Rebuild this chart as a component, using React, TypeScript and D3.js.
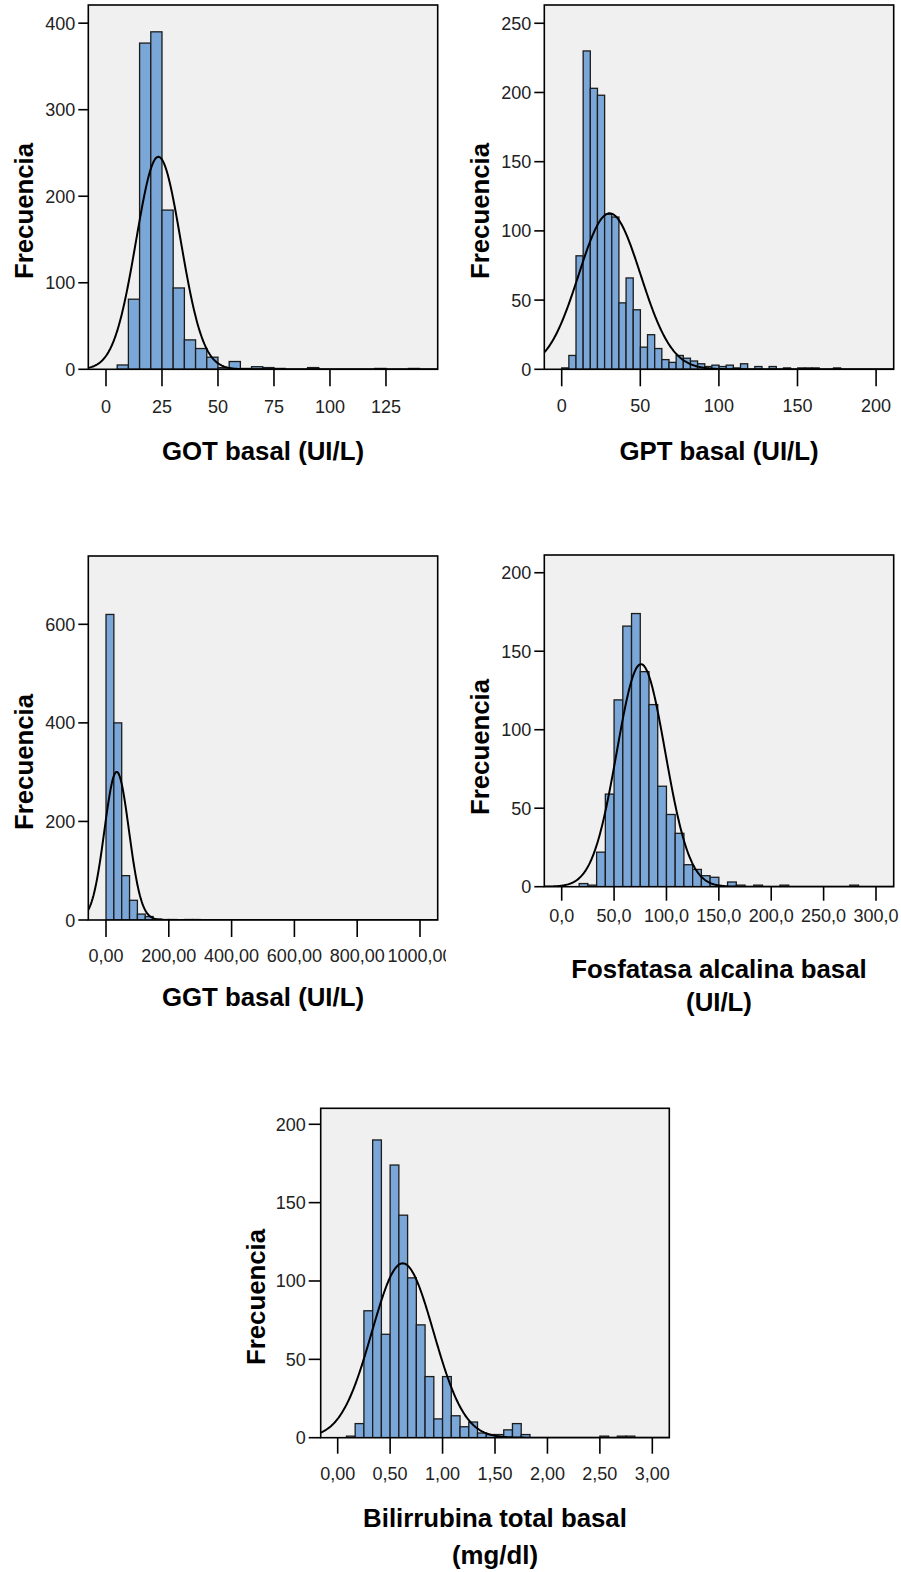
import React from "react";
import * as d3 from "d3";

// ---- Histogram data (frequency per bin) ----
const gotCounts = [0, 5, 81, 377, 390, 184, 94, 34, 24, 14, 2, 9, 1, 3, 2, 1, 0, 0, 2, 0, 0, 0, 0, 0, 1, 0, 0, 1];
const gotBinStart = 0;
const gotBinWidth = 5;
const gotMean = 23.4;
const gotSd = 9.95;
const gotXTicks = [0, 25, 50, 75, 100, 125];
const gotYTicks = [0, 100, 200, 300, 400];

const gptCounts = [1, 10, 82, 230, 203, 198, 112, 110, 48, 66, 43, 16, 25, 15, 7, 5, 10, 8, 6, 4, 2, 3, 2, 3, 1, 4, 0, 2, 0, 2, 0, 1, 0, 1, 1, 1, 0, 0, 1];
const gptBinStart = 0;
const gptBinWidth = 4.55;
const gptMean = 30.5;
const gptSd = 19.7;
const gptXTicks = [0, 50, 100, 150, 200];
const gptYTicks = [0, 50, 100, 150, 200, 250];

const ggtCounts = [620, 400, 90, 40, 12, 7, 2, 1, 1, 0, 1, 1];
const ggtBinStart = 0;
const ggtBinWidth = 25;
const ggtMean = 34;
const ggtSd = 39;
const ggtXTicks = [0, 200, 400, 600, 800, 1000];
const ggtYTicks = [0, 200, 400, 600];

const alpCounts = [0, 0, 2, 1, 22, 59, 119, 166, 174, 137, 116, 64, 46, 34, 14, 11, 7, 6, 0, 3, 1, 0, 1, 0, 0, 1, 0, 0, 0, 0, 0, 0, 0, 1];
const alpBinStart = 0;
const alpBinWidth = 25 / 3;
const alpMean = 75.7;
const alpSd = 23.1;
const alpXTicks = [0, 50, 100, 150, 200, 250, 300];
const alpYTicks = [0, 50, 100, 150, 200];

const bilCounts = [0, 1, 9, 81, 190, 66, 174, 142, 102, 72, 39, 12, 39, 14, 7, 10, 3, 2, 2, 5, 9, 2, 0, 0, 0, 0, 0, 0, 0, 0, 1, 0, 1, 1];
const bilBinStart = 0;
const bilBinWidth = 1 / 12;
const bilMean = 0.62;
const bilSd = 0.294;
const bilXTicks = [0, 0.5, 1, 1.5, 2, 2.5, 3];
const bilYTicks = [0, 50, 100, 150, 200];

const yAxisTitle = "Frecuencia";

const comma = (digits: number) => (v: number) => v.toFixed(digits).replace(".", ",");

type PanelSpec = {
  id: string;
  counts: number[];
  binStart: number;
  binWidth: number;
  mean: number;
  sd: number;
  xTicks: number[];
  yTicks: number[];
  fmt: (v: number) => string;
  box: { l: number; r: number; t: number; b: number };
  xDomain: [number, number];
  yMax: number;
  xTickLen: number;
  yTickLen: number;
  xLabelOffset: number;
  titleLines: string[];
  titleBaselines: number[];
  yTitlePos: [number, number];
  labelClipRight?: number;
};

const panels: PanelSpec[] = [
  {
    id: "got",
    counts: gotCounts, binStart: gotBinStart, binWidth: gotBinWidth, mean: gotMean, sd: gotSd,
    xTicks: gotXTicks, yTicks: gotYTicks, fmt: comma(0),
    box: { l: 88.3, r: 437.7, t: 5, b: 369.3 },
    xDomain: [-7.9, 148.1], yMax: 421,
    xTickLen: 17, yTickLen: 10, xLabelOffset: 43.4,
    titleLines: ["GOT basal (UI/L)"], titleBaselines: [460],
    yTitlePos: [24, 211],
  },
  {
    id: "gpt",
    counts: gptCounts, binStart: gptBinStart, binWidth: gptBinWidth, mean: gptMean, sd: gptSd,
    xTicks: gptXTicks, yTicks: gptYTicks, fmt: comma(0),
    box: { l: 544.3, r: 893.7, t: 5, b: 369.3 },
    xDomain: [-11.07, 211.2], yMax: 263.2,
    xTickLen: 17, yTickLen: 10, xLabelOffset: 43,
    titleLines: ["GPT basal (UI/L)"], titleBaselines: [460],
    yTitlePos: [480, 211],
  },
  {
    id: "ggt",
    counts: ggtCounts, binStart: ggtBinStart, binWidth: ggtBinWidth, mean: ggtMean, sd: ggtSd,
    xTicks: ggtXTicks, yTicks: ggtYTicks, fmt: comma(2),
    box: { l: 88.3, r: 437.7, t: 556, b: 920 },
    xDomain: [-56.4, 1056.4], yMax: 738.6,
    xTickLen: 17, yTickLen: 10, xLabelOffset: 42,
    titleLines: ["GGT basal (UI/L)"], titleBaselines: [1006],
    yTitlePos: [24, 762],
    labelClipRight: 446,
  },
  {
    id: "alp",
    counts: alpCounts, binStart: alpBinStart, binWidth: alpBinWidth, mean: alpMean, sd: alpSd,
    xTicks: alpXTicks, yTicks: alpYTicks, fmt: comma(1),
    box: { l: 544.3, r: 893.7, t: 555, b: 886.7 },
    xDomain: [-16.6, 316.9], yMax: 211.3,
    xTickLen: 14, yTickLen: 10, xLabelOffset: 35,
    titleLines: ["Fosfatasa alcalina basal", "(UI/L)"], titleBaselines: [978, 1011],
    yTitlePos: [480, 747],
  },
  {
    id: "bil",
    counts: bilCounts, binStart: bilBinStart, binWidth: bilBinWidth, mean: bilMean, sd: bilSd,
    xTicks: bilXTicks, yTicks: bilYTicks, fmt: comma(2),
    box: { l: 320.7, r: 669.3, t: 1108.3, b: 1437.7 },
    xDomain: [-0.162, 3.162], yMax: 210.2,
    xTickLen: 16, yTickLen: 12, xLabelOffset: 42,
    titleLines: ["Bilirrubina total basal", "(mg/dl)"], titleBaselines: [1527, 1564],
    yTitlePos: [256, 1297],
  },
];

const FONT = "'Liberation Sans', Arial, Helvetica, sans-serif";
const BAR_FILL = "#7aa7d7";
const BAR_STROKE = "#1c1c1c";
const PLOT_BG = "#f0f0f0";
const TEXT = "#222";
const TITLE_SIZE = 25.8;

function Histogram({ p }: { p: PanelSpec }) {
  const { box } = p;
  const x = d3.scaleLinear().domain(p.xDomain).range([box.l, box.r]);
  const y = d3.scaleLinear().domain([0, p.yMax]).range([box.b, box.t]);

  // fitted normal curve scaled to counts: N * binWidth * pdf
  const n = d3.sum(p.counts);
  const density = (v: number) =>
    (n * p.binWidth) / (p.sd * Math.sqrt(2 * Math.PI)) *
    Math.exp(-((v - p.mean) ** 2) / (2 * p.sd * p.sd));
  const samples = d3.range(0, 401).map((i) => p.xDomain[0] + ((p.xDomain[1] - p.xDomain[0]) * i) / 400);
  const curve = d3
    .line<number>()
    .x((v) => x(v))
    .y((v) => y(density(v)))(samples);

  const bins = p.counts
    .map((c, k) => ({ c, x0: p.binStart + k * p.binWidth, x1: p.binStart + (k + 1) * p.binWidth }))
    .filter((d) => d.c > 0);

  const cx = (box.l + box.r) / 2;
  const clipId = `plot-${p.id}`;
  const labelClipId = `labels-${p.id}`;

  return (
    <g>
      <defs>
        <clipPath id={clipId}>
          <rect x={box.l} y={box.t} width={box.r - box.l} height={box.b - box.t} />
        </clipPath>
        {p.labelClipRight !== undefined && (
          <clipPath id={labelClipId}>
            <rect x={0} y={box.b} width={p.labelClipRight} height={80} />
          </clipPath>
        )}
      </defs>
      <rect x={box.l} y={box.t} width={box.r - box.l} height={box.b - box.t} fill={PLOT_BG} />
      <g clipPath={`url(#${clipId})`}>
        {bins.map((d, i) => (
          <rect
            key={i}
            x={x(d.x0)}
            y={y(d.c)}
            width={x(d.x1) - x(d.x0)}
            height={y(0) - y(d.c)}
            fill={BAR_FILL}
            stroke={BAR_STROKE}
            strokeWidth={1.3}
          />
        ))}
        <path d={curve ?? ""} fill="none" stroke="#000" strokeWidth={2} />
      </g>
      <rect
        x={box.l}
        y={box.t}
        width={box.r - box.l}
        height={box.b - box.t}
        fill="none"
        stroke="#000"
        strokeWidth={1.6}
      />
      {/* y axis */}
      {p.yTicks.map((t) => (
        <g key={`y${t}`}>
          <line x1={box.l - p.yTickLen} x2={box.l} y1={y(t)} y2={y(t)} stroke="#000" strokeWidth={1.6} />
          <text
            x={box.l - p.yTickLen - 3}
            y={y(t) + 6.5}
            textAnchor="end"
            fontSize={18}
            fontFamily={FONT}
            fill={TEXT}
          >
            {t}
          </text>
        </g>
      ))}
      {/* x axis */}
      <g clipPath={p.labelClipRight !== undefined ? `url(#${labelClipId})` : undefined}>
        {p.xTicks.map((t) => (
          <g key={`x${t}`}>
            <line x1={x(t)} x2={x(t)} y1={box.b} y2={box.b + p.xTickLen} stroke="#000" strokeWidth={1.6} />
            <text
              x={x(t)}
              y={box.b + p.xLabelOffset}
              textAnchor="middle"
              fontSize={18}
              fontFamily={FONT}
              fill={TEXT}
            >
              {p.fmt(t)}
            </text>
          </g>
        ))}
      </g>
      {p.titleLines.map((line, i) => (
        <text
          key={line}
          x={cx}
          y={p.titleBaselines[i]}
          textAnchor="middle"
          fontSize={TITLE_SIZE}
          fontWeight="bold"
          fontFamily={FONT}
          fill="#000"
        >
          {line}
        </text>
      ))}
      <text
        transform={`translate(${p.yTitlePos[0] + 9},${p.yTitlePos[1]}) rotate(-90)`}
        textAnchor="middle"
        fontSize={TITLE_SIZE}
        fontWeight="bold"
        fontFamily={FONT}
        fill="#000"
      >
        {yAxisTitle}
      </text>
    </g>
  );
}

export default function App() {
  return (
    <svg
      width={901}
      height={1572}
      viewBox="0 0 901 1572"
      style={{ position: "absolute", left: 0, top: 0, background: "#fff" }}
    >
      <rect width={901} height={1572} fill="#fff" />
      {panels.map((p) => (
        <Histogram key={p.id} p={p} />
      ))}
    </svg>
  );
}
